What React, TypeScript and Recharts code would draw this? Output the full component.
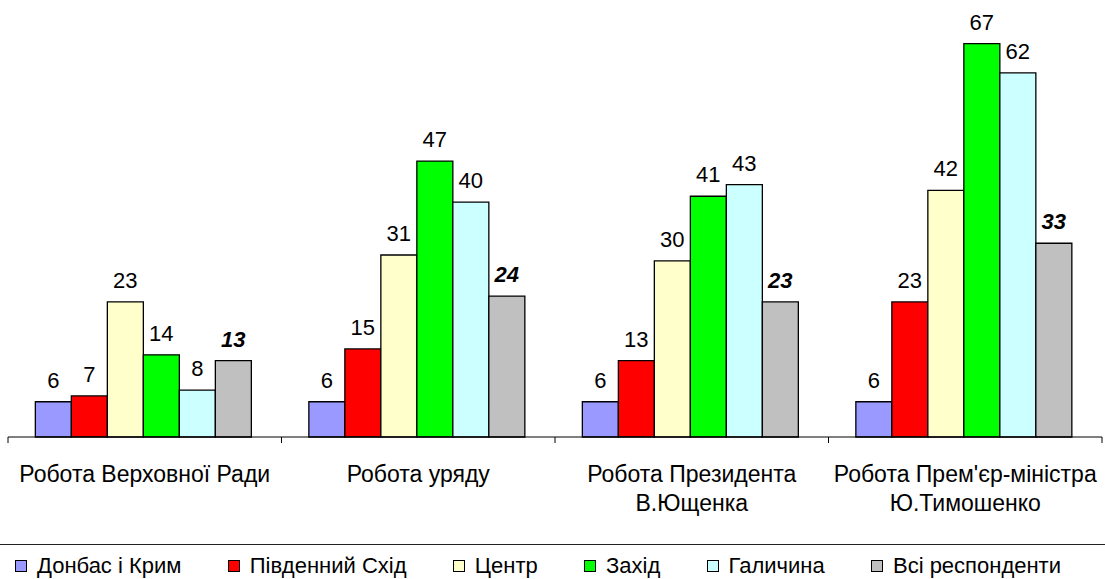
import { BarChart, Bar, XAxis, YAxis, LabelList, Legend } from 'recharts'

const categories = [
  'Робота Верховної Ради',
  'Робота уряду',
  'Робота Президента\nВ.Ющенка',
  "Робота Прем'єр-міністра\nЮ.Тимошенко"
]

const seriesNames = ['Донбас і Крим', 'Південний Схід', 'Центр', 'Захід', 'Галичина', 'Всі респонденти']
const seriesColors = ['#9999FF', '#FF0000', '#FFFFCC', '#00FF00', '#CCFFFF', '#C0C0C0']

const donbas = [6, 6, 6, 6]
const southEast = [7, 15, 13, 23]
const centre = [23, 31, 30, 42]
const west = [14, 47, 41, 67]
const galicia = [8, 40, 43, 62]
const allRespondents = [13, 24, 23, 33]

const seriesValues = [donbas, southEast, centre, west, galicia, allRespondents]

const data = categories.map((name, i) => {
  const row: Record<string, string | number> = { name }
  seriesNames.forEach((s, j) => {
    row[s] = seriesValues[j][i]
  })
  return row
})

const FONT = '"Liberation Sans", Arial, sans-serif'

const CategoryTick = (props: any) => {
  const { x, y, payload, index } = props
  const half = payload.offset ?? 136.75
  const lines = String(payload.value).split('\n')
  return (
    <g>
      <line x1={x - half} y1={y} x2={x - half} y2={y + 6} stroke="#000" />
      {index === categories.length - 1 && (
        <line x1={x + half} y1={y} x2={x + half} y2={y + 6} stroke="#000" />
      )}
      <text x={x} y={y + 45} textAnchor="middle" fontSize={23} fontFamily={FONT} fill="#000">
        {lines.map((l, i) => (
          <tspan key={i} x={x} dy={i === 0 ? 0 : 29}>
            {l}
          </tspan>
        ))}
      </text>
    </g>
  )
}

const LegendBox = () => (
  <div
    style={{
      display: 'flex',
      justifyContent: 'space-between',
      alignItems: 'center',
      height: 35,
      boxSizing: 'border-box',
      borderTop: '1.5px solid #222',
      padding: '7px 44px 0 15px',
      fontFamily: FONT,
      fontSize: 22,
      color: '#000'
    }}
  >
    {seriesNames.map((s, i) => (
      <span key={s} style={{ display: 'flex', alignItems: 'center' }}>
        <span
          style={{
            display: 'inline-block',
            width: 10,
            height: 10,
            border: '1px solid #000',
            background: seriesColors[i],
            marginRight: 10
          }}
        />
        {s}
      </span>
    ))}
  </div>
)

export default function App() {
  return (
    <div style={{ position: 'absolute', left: 0, top: 0, width: 1105, height: 579, background: '#fff' }}>
      <BarChart
        width={1105}
        height={579}
        data={data}
        margin={{ top: 26, right: 3, left: 8, bottom: 0 }}
        barCategoryGap="10%"
        barGap={0}
      >
        <YAxis hide domain={[0, 70]} />
        <XAxis
          dataKey="name"
          height={107}
          axisLine={{ stroke: '#000' }}
          tickLine={false}
          tickSize={0}
          tickMargin={0}
          interval={0}
          tick={<CategoryTick />}
        />
        <Legend
          verticalAlign="bottom"
          content={<LegendBox />}
          wrapperStyle={{ left: 0, bottom: 0, width: 1105 }}
        />
        {seriesNames.map((s, i) => (
          <Bar
            key={s}
            dataKey={s}
            fill={seriesColors[i]}
            stroke="#000"
            strokeWidth={1.3}
            isAnimationActive={false}
          >
            <LabelList
              dataKey={s}
              position="top"
              offset={14}
              fontSize={22}
              fontFamily={FONT}
              fill="#000"
              fontWeight={i === 5 ? 'bold' : 'normal'}
              fontStyle={i === 5 ? 'italic' : 'normal'}
            />
          </Bar>
        ))}
      </BarChart>
    </div>
  )
}
